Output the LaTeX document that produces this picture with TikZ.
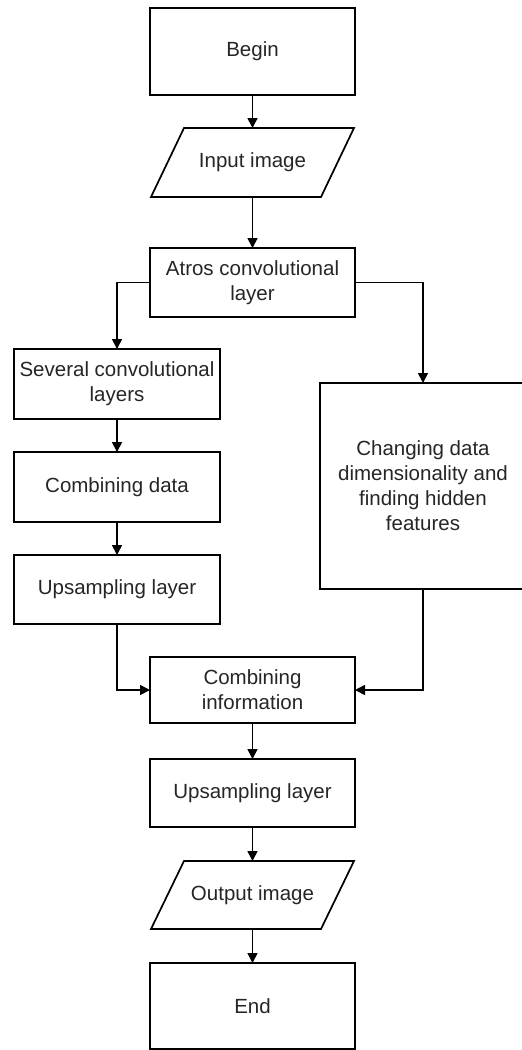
\documentclass[tikz,border=0pt]{standalone}
\usepackage{fontspec}
\setmainfont{Liberation Sans}
\usetikzlibrary{arrows.meta}
\begin{document}
\begin{tikzpicture}[x=1pt,y=-1pt,
  box/.style={draw, line width=1.7pt, align=center, font=\fontsize{20.5}{25}\selectfont, inner sep=0pt, outer sep=0pt, text=black!85},
  iotext/.style={align=center, font=\fontsize{20.5}{25}\selectfont, inner sep=0pt, outer sep=0pt, text=black!85},
  ioline/.style={draw, line width=1.7pt, line join=miter},
  arr/.style={-{Triangle[length=10pt,width=10pt]}, line width=1.7pt}]
\useasboundingbox (0,0) rectangle (522,1050);
\fill[white] (0,0) rectangle (522,1050);

\node[box, minimum width=205pt, minimum height=87pt] (begin) at (252.5,51.5) {Begin};
\node[iotext, minimum width=203pt, minimum height=69pt] (input) at (252.5,162.5) {Input image};
\draw[ioline] (input.south west) -- ([xshift=-33pt]input.south east) -- (input.north east) -- ([xshift=33pt]input.north west) -- cycle;
\node[box, minimum width=205pt, minimum height=69pt] (atros) at (252.5,282.5) {Atros convolutional\\layer};
\node[box, minimum width=206pt, minimum height=70pt] (several) at (117,384) {Several convolutional\\layers};
\node[box, minimum width=206pt, minimum height=70pt] (combdata) at (117,487) {Combining data};
\node[box, minimum width=206pt, minimum height=69pt] (upleft) at (117,589.5) {Upsampling layer};
\node[box, minimum width=206pt, minimum height=206pt] (changing) at (423,486) {Changing data\\dimensionality and\\finding hidden\\features};
\node[box, minimum width=205pt, minimum height=66pt] (combinfo) at (252.5,690) {Combining\\information};
\node[box, minimum width=205pt, minimum height=68pt] (upmid) at (252.5,793) {Upsampling layer};
\node[iotext, minimum width=203pt, minimum height=68pt] (output) at (252.5,895) {Output image};
\draw[ioline] (output.south west) -- ([xshift=-33pt]output.south east) -- (output.north east) -- ([xshift=33pt]output.north west) -- cycle;
\node[box, minimum width=205pt, minimum height=86pt] (finish) at (252.5,1006) {End};

\draw[arr] (begin) -- (input);
\draw[arr] (input) -- (atros);
\draw[arr] (atros.west) -| (several.north);
\draw[arr] (atros.east) -| (changing.north);
\draw[arr] (several) -- (combdata);
\draw[arr] (combdata) -- (upleft);
\draw[arr] (upleft.south) |- (combinfo.west);
\draw[arr] (changing.south) |- (combinfo.east);
\draw[arr] (combinfo) -- (upmid);
\draw[arr] (upmid) -- (output);
\draw[arr] (output) -- (finish);
\end{tikzpicture}
\end{document}
